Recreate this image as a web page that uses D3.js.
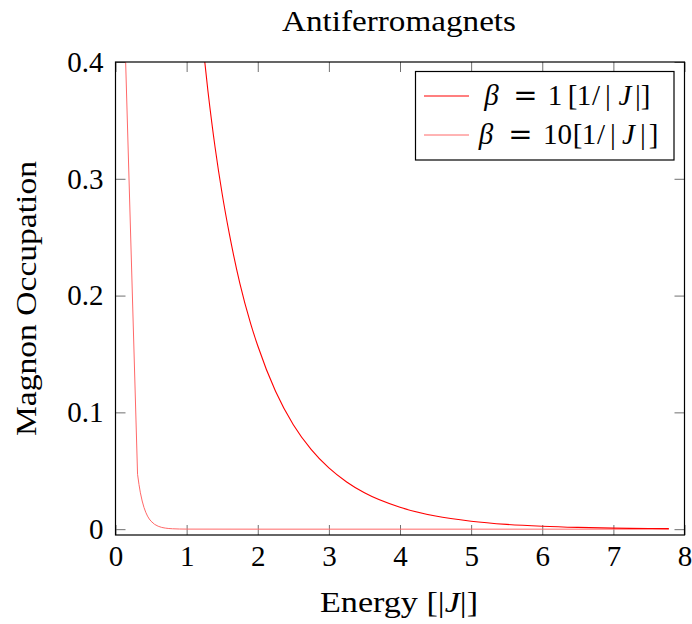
<!DOCTYPE html>
<html>
<head>
<meta charset="utf-8">
<script src="https://cdn.jsdelivr.net/npm/d3@7"></script>
<style>
  html, body { margin: 0; padding: 0; background: #fff; }
  svg { display: block; }
  text { font-family: "Liberation Serif", "DejaVu Serif", serif; fill: #000; }
</style>
</head>
<body>
<svg id="chart" width="692" height="624"></svg>
<script>
// Magnon occupation n(E) for two inverse temperatures
const energyBeta1 = [1.2, 1.3, 1.4, 1.5, 1.6, 1.75, 1.9, 2.0, 2.25, 2.5, 2.75, 3.0, 3.25, 3.5, 4.0, 4.5, 5.0, 5.5, 6.0, 6.5, 7.0, 7.5, 7.78];
const occBeta1    = [0.431, 0.375, 0.327, 0.287, 0.253, 0.210, 0.176, 0.157, 0.118, 0.0894, 0.0683, 0.0524, 0.0404, 0.0311, 0.0187, 0.0112, 0.0068, 0.0041, 0.0025, 0.0015, 0.0009, 0.00055, 0.00042];

const energyBeta10 = [0.1, 0.31, 0.33, 0.35, 0.375, 0.4, 0.425, 0.45, 0.475, 0.5, 0.55, 0.6, 0.65, 0.7, 0.75, 0.8, 0.9, 1.0, 2.0, 3.0, 4.0, 5.0, 6.0, 7.0, 7.78];
const occBeta10    = [0.49, 0.047, 0.0383, 0.0311, 0.0241, 0.0187, 0.0145, 0.0112, 0.0087, 0.0068, 0.0041, 0.0025, 0.0015, 0.0009, 0.00055, 0.00034, 0.00012, 0.00005, 0, 0, 0, 0, 0, 0, 0];

const seriesBetas = ["1", "10"];
const xTicks = [0, 1, 2, 3, 4, 5, 6, 7, 8];
const yTicks = [0, 0.1, 0.2, 0.3, 0.4];
const yTickLabels = ["0", "0.1", "0.2", "0.3", "0.4"];

const svg = d3.select("#chart");
const plotLeft = 115.5, plotRight = 684.5, plotTop = 62, plotBottom = 535;

const x = d3.scaleLinear().domain([0, 8]).range([plotLeft, plotRight]);
const y = d3.scaleLinear().domain([-0.005, 0.4]).range([plotBottom, plotTop]);

const FS = 29;
const tickLen = 10;
const colors = ["#ff0000", "#ff6868"];
const widths = [1.1, 1];

// clip region for the curves
svg.append("defs").append("clipPath").attr("id", "plotclip")
  .append("rect").attr("x", plotLeft).attr("y", plotTop)
  .attr("width", plotRight - plotLeft).attr("height", plotBottom - plotTop);

// ticks on all four sides, pointing inward
const tickColor = "#707070";
const bottomAxis = d3.axisBottom(x).tickValues(xTicks).tickSizeInner(-tickLen).tickSizeOuter(0).tickPadding(10);
const topAxis = d3.axisTop(x).tickValues(xTicks).tickSizeInner(-tickLen).tickSizeOuter(0).tickFormat("");
const leftAxis = d3.axisLeft(y).tickValues(yTicks).tickSizeInner(-tickLen).tickSizeOuter(0).tickPadding(12)
  .tickFormat((d, i) => yTickLabels[i]);
const rightAxis = d3.axisRight(y).tickValues(yTicks).tickSizeInner(-tickLen).tickSizeOuter(0).tickFormat("");

function styleAxis(g) {
  g.select(".domain").remove();
  g.selectAll(".tick line").attr("stroke", tickColor).attr("stroke-width", 1);
  g.selectAll(".tick text").attr("font-size", FS).attr("fill", "#000");
}

svg.append("g").attr("transform", `translate(0,${plotBottom})`).call(bottomAxis).call(styleAxis);
svg.append("g").attr("transform", `translate(0,${plotTop})`).call(topAxis).call(styleAxis);
svg.append("g").attr("transform", `translate(${plotLeft},0)`).call(leftAxis).call(styleAxis);
svg.append("g").attr("transform", `translate(${plotRight},0)`).call(rightAxis).call(styleAxis);

// curves
const line = d3.line().x(d => x(d[0])).y(d => y(d[1]));
const plot = svg.append("g").attr("clip-path", "url(#plotclip)");

plot.append("path")
  .datum(energyBeta10.map((e, i) => [e, occBeta10[i]]))
  .attr("fill", "none").attr("stroke", colors[1]).attr("stroke-width", widths[1])
  .attr("d", line.curve(d3.curveLinear));

plot.append("path")
  .datum(energyBeta1.map((e, i) => [e, occBeta1[i]]))
  .attr("fill", "none").attr("stroke", colors[0]).attr("stroke-width", widths[0])
  .attr("d", line.curve(d3.curveMonotoneX));

// frame
svg.append("rect").attr("x", plotLeft).attr("y", plotTop)
  .attr("width", plotRight - plotLeft).attr("height", plotBottom - plotTop)
  .attr("fill", "none").attr("stroke", "#000").attr("stroke-width", 1.2);

// title and axis labels
svg.append("text").attr("x", 399).attr("y", 31).attr("text-anchor", "middle")
  .attr("font-size", FS).attr("textLength", 234).attr("lengthAdjust", "spacingAndGlyphs")
  .text("Antiferromagnets");

const xl = svg.append("text").attr("x", 399).attr("y", 612)
  .attr("text-anchor", "middle").attr("font-size", FS)
  .attr("textLength", 158).attr("lengthAdjust", "spacingAndGlyphs");
xl.append("tspan").text("Energy [|");
xl.append("tspan").attr("font-style", "italic").text("J");
xl.append("tspan").text("|]");

svg.append("text").attr("transform", `translate(36,${(plotTop + plotBottom) / 2}) rotate(-90)`)
  .attr("text-anchor", "middle").attr("font-size", FS)
  .attr("textLength", 275).attr("lengthAdjust", "spacingAndGlyphs")
  .text("Magnon Occupation");

// legend
const legend = svg.append("g");
legend.append("rect").attr("x", 415.5).attr("y", 71.5).attr("width", 258.5).attr("height", 88.5)
  .attr("fill", "#fff").attr("stroke", "#000").attr("stroke-width", 1.2);

// math-style labels: [glyphs, centre x, italic, symbol font]
const rowY = [96, 135];
const rowPieces = [
  [["β", 491.5, true], ["=", 525.5, false, true], [seriesBetas[0], 555], ["[", 572.5], ["1", 584], ["/", 596],
   ["|", 608], ["J", 625, true], ["|", 638], ["]", 645.5]],
  [["β", 486, true], ["=", 520.5, false, true], [seriesBetas[1], 557.5], ["[", 577.5], ["1", 589], ["/", 601],
   ["|", 613], ["J", 628.5, true], ["|", 643], ["]", 653.5]]
];
rowY.forEach((ly, r) => {
  legend.append("line").attr("x1", 424).attr("x2", 469).attr("y1", ly).attr("y2", ly)
    .attr("stroke", colors[r]).attr("stroke-width", widths[r]);
  const t = legend.append("text").attr("y", ly + 9).attr("font-size", FS).attr("text-anchor", "middle");
  rowPieces[r].forEach(([s, cx, ital, sym]) => {
    const sp = t.append("tspan").attr("x", cx).text(s);
    if (ital) sp.style("font-style", "italic");
    if (sym) sp.style("font-family", "'DejaVu Serif', serif");
  });
});
</script>
</body>
</html>
